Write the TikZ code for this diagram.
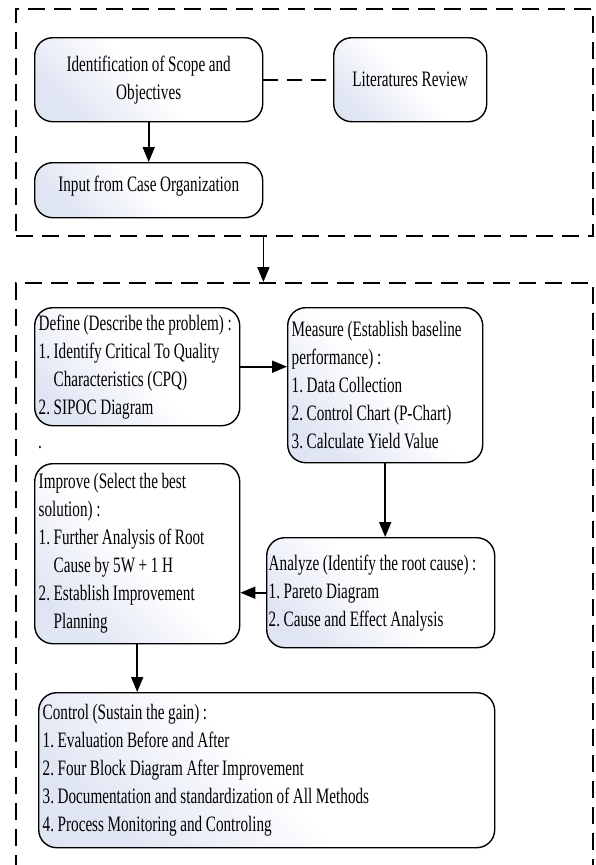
\documentclass[tikz,border=0pt]{standalone}
\usepackage{fontspec}
\setmainfont{Liberation Serif}[FakeStretch=0.69]
\usetikzlibrary{arrows.meta,calc}
\definecolor{shadeblue}{RGB}{224,229,243}
\newcommand\setdiagspaces{\frenchspacing
  \spaceskip=3.6pt plus 1pt minus 0.5pt\relax\xspaceskip=\spaceskip}
\newcommand\diagfont{\fontsize{22}{28}\selectfont\setdiagspaces}
\begin{document}
\begin{tikzpicture}[x=1pt,y=-1pt,
  box/.style={draw, line width=1.4pt, rounded corners=18pt,
    top color=shadeblue, bottom color=white, middle color=white, shading angle=135,
    font=\diagfont, inner ysep=0pt, inner xsep=4pt,
    anchor=north west, execute at begin node=\setdiagspaces},
  leftbox/.style={box, align=flush left},
  centerbox/.style={box, align=flush center},
  dashbox/.style={draw, line width=2.2pt, dash pattern=on 17pt off 9pt,
    anchor=north west, inner sep=0pt},
  arr/.style={line width=1.8pt, -{Triangle[length=15pt,width=12pt]}},
  dashline/.style={line width=2pt, dash pattern=on 15pt off 9pt}
]
\useasboundingbox (0,0) rectangle (595,865);
\clip (0,0) rectangle (595,865);

% dashed frames
\node[dashbox, minimum width=577, minimum height=227] (topbox) at (15,8) {};
\node[dashbox, minimum width=577, minimum height=640] (botbox) at (15,282) {};

% top section
\node[centerbox, minimum width=228, minimum height=84, text width=220] (ident) at (34,37)
  {Identification of Scope and\\Objectives};
\node[centerbox, minimum width=153, minimum height=84, text width=145] (lit) at (333,37)
  {Literatures Review};
\node[centerbox, minimum width=228, minimum height=55, text width=220, text depth=12pt] (inp) at (34,162)
  {Input from Case Organization};

% bottom section
\node[leftbox, minimum width=205, minimum height=118, text width=197] (def) at (34,307)
  {Define (Describe the problem) :\\
   1. Identify Critical To Quality\\
   \hphantom{1.\ }Characteristics (CPQ)\\
   2. SIPOC Diagram};
\node[leftbox, minimum width=195, minimum height=155, text width=187] (meas) at (287,307)
  {Measure (Establish baseline\\
   performance) :\\
   1. Data Collection\\
   2. Control Chart (P-Chart)\\
   3. Calculate Yield Value};
\node[leftbox, minimum width=205, minimum height=180, text width=197] (imp) at (34,463)
  {Improve (Select the best\\
   solution) :\\
   1. Further Analysis of Root\\
   \hphantom{1.\ }Cause by 5W + 1 H\\
   2. Establish Improvement\\
   \hphantom{2.\ }Planning};
\node[leftbox, inner xsep=2pt, minimum width=228, minimum height=110, text width=224] (ana) at (266,537)
  {Analyze (Identify the root cause) :\\
   1. Pareto Diagram\\
   2. Cause and Effect Analysis};
\node[leftbox, minimum width=456, minimum height=155, text width=448] (ctrl) at (38,692)
  {Control (Sustain the gain) :\\
   1. Evaluation Before and After\\
   2. Four Block Diagram After Improvement\\
   3. Documentation and standardization of All Methods\\
   4. Process Monitoring and Controling};
\node[font=\diagfont, anchor=base west, inner sep=0pt] (dot) at (38,448) {.};

% connectors
\draw[dashline] (ident) -- (lit);
\draw[arr] (ident) -- (inp);
\draw[arr] (ident.east |- topbox.south) -- (ident.east |- botbox.north);
\draw[arr] (def.east) -- (def.east -| meas.west);
\draw[arr] (meas.south) -- (meas.south |- ana.north);
\draw[arr] (ana.west) -- (ana.west -| imp.east);
\draw[arr] (imp.south) -- (imp.south |- ctrl.north);
\end{tikzpicture}
\end{document}
